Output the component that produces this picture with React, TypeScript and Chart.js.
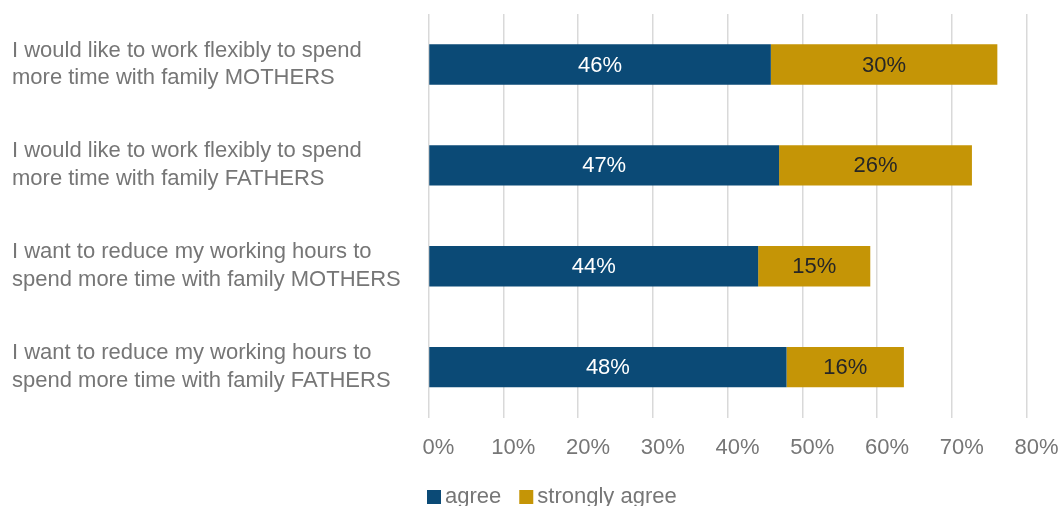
import React, { useEffect, useRef } from "react";
import { Chart, registerables } from "chart.js";

Chart.register(...registerables);

const categories: string[][] = [
  ["I would like to work flexibly to spend", "more time with family MOTHERS"],
  ["I would like to work flexibly to spend", "more time with family FATHERS"],
  ["I want to reduce my working hours to", "spend more time with family MOTHERS"],
  ["I want to reduce my working hours to", "spend more time with family FATHERS"],
];
const agree: number[] = [45.8, 46.9, 44.1, 47.9];
const stronglyAgree: number[] = [30.3, 25.8, 15.0, 15.7];
const agreeLabels: string[] = ["46%", "47%", "44%", "48%"];
const stronglyLabels: string[] = ["30%", "26%", "15%", "16%"];
const tickValues: number[] = [0, 10, 20, 30, 40, 50, 60, 70, 80];

const BLUE = "#0B4A76";
const GOLD = "#C59506";
const GRAY = "#767676";
const FONT = "'Liberation Sans', Arial, sans-serif";

const labelPlugin = {
  id: "barLabels",
  afterDatasetsDraw(chart: any) {
    const ctx = chart.ctx;
    const texts = [agreeLabels, stronglyLabels];
    const colors = ["#FFFFFF", "#262626"];
    ctx.save();
    ctx.font = `22px ${FONT}`;
    ctx.textAlign = "center";
    ctx.textBaseline = "middle";
    chart.data.datasets.forEach((_ds: any, di: number) => {
      const meta = chart.getDatasetMeta(di);
      meta.data.forEach((el: any, i: number) => {
        const cx = (el.x + el.base) / 2;
        ctx.fillStyle = colors[di];
        ctx.fillText(texts[di][i], cx, el.y + 1);
      });
    });
    ctx.restore();
  },
};

const legendPlugin = {
  id: "customLegend",
  afterDraw(chart: any) {
    const ctx = chart.ctx;
    ctx.save();
    ctx.font = `22px ${FONT}`;
    ctx.textBaseline = "middle";
    ctx.textAlign = "left";
    const y = 497;
    let x = 427;
    chart.data.datasets.forEach((ds: any) => {
      ctx.fillStyle = ds.backgroundColor;
      ctx.fillRect(x, y - 7, 14, 14);
      ctx.fillStyle = GRAY;
      ctx.fillText(ds.label, x + 18, y);
      const w = ctx.measureText(ds.label).width;
      x += 18 + w + 18;
    });
    ctx.restore();
  },
};

export default function App() {
  const ref = useRef<HTMLCanvasElement | null>(null);
  useEffect(() => {
    if (!ref.current) return;
    const chart = new Chart(ref.current, {
      type: "bar",
      data: {
        labels: categories,
        datasets: [
          {
            label: "agree",
            data: agree,
            backgroundColor: BLUE,
            borderWidth: 0,
            categoryPercentage: 1,
            barPercentage: 0.4,
          },
          {
            label: "strongly agree",
            data: stronglyAgree,
            backgroundColor: GOLD,
            borderWidth: 0,
            categoryPercentage: 1,
            barPercentage: 0.4,
          },
        ],
      },
      options: {
        indexAxis: "y",
        responsive: false,
        animation: false,
        layout: { padding: { left: 12, top: 14, right: 33.5, bottom: 28 } },
        plugins: {
          legend: { display: false },
          tooltip: { enabled: false },
        },
        scales: {
          x: {
            stacked: true,
            min: 0,
            max: 80,
            afterBuildTicks(scale: any) {
              scale.ticks = tickValues.map((v) => ({ value: v }));
            },
            afterFit(scale: any) {
              scale.paddingLeft = 0;
              scale.paddingRight = 0;
            },
            grid: { color: "#D9D9D9", lineWidth: 1.5, drawTicks: false },
            border: { display: false },
            ticks: {
              padding: 17,
              labelOffset: 10,
              color: GRAY,
              font: { size: 22, family: FONT },
              callback: (v: any) => `${v}%`,
              maxRotation: 0,
            },
          },
          y: {
            stacked: true,
            grid: { display: false },
            border: { display: false },
            afterFit(scale: any) {
              scale.width = 416.5;
              scale.paddingTop = 0;
              scale.paddingBottom = 0;
            },
            ticks: {
              crossAlign: "far",
              color: GRAY,
              font: { size: 22, family: FONT, lineHeight: 1.27 },
              padding: 0,
            },
          },
        },
      },
      plugins: [labelPlugin, legendPlugin],
    });
    return () => chart.destroy();
  }, []);
  return (
    <div
      style={{
        position: "absolute",
        left: 0,
        top: 0,
        width: 1060,
        height: 506,
        overflow: "hidden",
        background: "#fff",
      }}
    >
      <canvas ref={ref} width={1060} height={506} />
    </div>
  );
}
